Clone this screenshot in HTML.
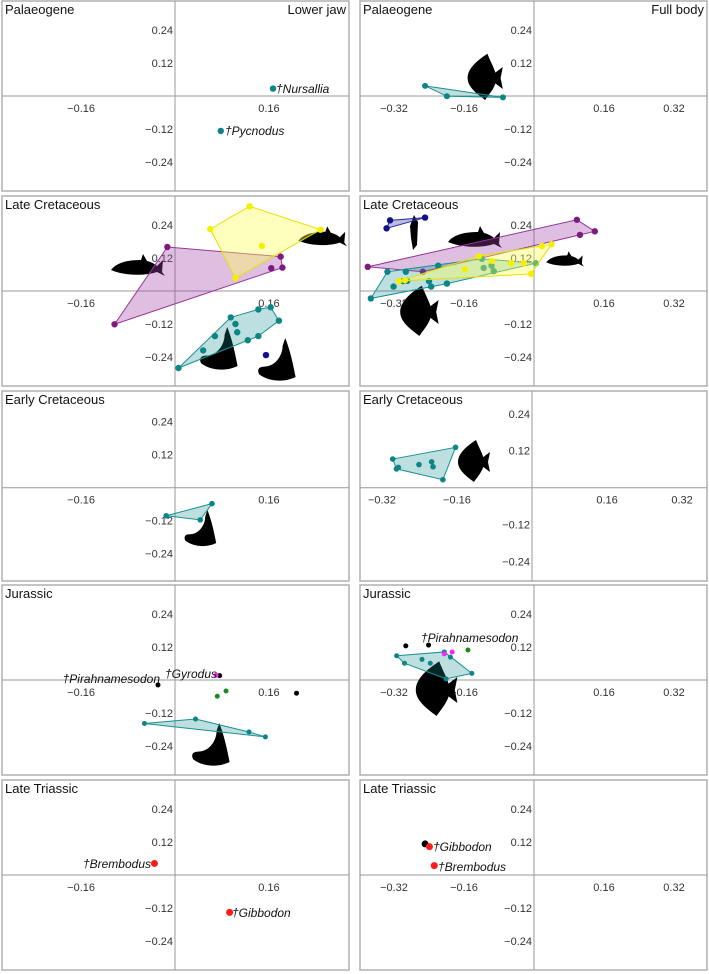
<!DOCTYPE html>
<html><head><meta charset="utf-8">
<style>
html,body{margin:0;padding:0;background:#fff;}
svg{display:block;font-family:"Liberation Sans",sans-serif;}
</style></head>
<body>
<svg id="fig" width="709" height="974" viewBox="0 0 709 974" xmlns="http://www.w3.org/2000/svg"></svg>
<script>
// ---- tick labels ----
const xTicksJaw = [-0.16, 0.16];
const xTicksBody = [-0.32, -0.16, 0.16, 0.32];
const yTicks = [0.24, 0.12, -0.12, -0.24];
const periodNames = ["Palaeogene","Late Cretaceous","Early Cretaceous","Jurassic","Late Triassic"];

// ---- data: Palaeogene ----
const palJawTealX = [0.167, 0.078];
const palJawTealY = [0.027, -0.127];
const palBodyTealX = [-0.249, -0.199, -0.071];
const palBodyTealY = [0.037, -0.001, -0.005];
// ---- Late Cretaceous jaw ----
const lcJawYellowX = [0.127, 0.060, 0.248, 0.148, 0.103];
const lcJawYellowY = [0.308, 0.225, 0.223, 0.164, 0.047];
const lcJawPurpleX = [-0.013, 0.180, 0.183, 0.164, -0.103];
const lcJawPurpleY = [0.160, 0.125, 0.085, 0.083, -0.121];
const lcJawTealX = [0.142, 0.163, 0.177, 0.095, 0.103, 0.106, 0.124, 0.142, 0.068, 0.048, 0.006];
const lcJawTealY = [-0.067, -0.059, -0.108, -0.096, -0.120, -0.150, -0.179, -0.164, -0.164, -0.216, -0.280];
const lcJawNavyX = [0.155];
const lcJawNavyY = [-0.233];
// ---- Late Cretaceous body ----
const lcBodyNavyX = [-0.329, -0.249, -0.337];
const lcBodyNavyY = [0.257, 0.267, 0.228];
const lcBodyPurpleX = [0.098, 0.139, 0.105, -0.380, -0.254];
const lcBodyPurpleY = [0.259, 0.217, 0.204, 0.088, 0.070];
const lcBodyYellowX = [0.018, 0.040, -0.052, -0.023, -0.007, -0.126, -0.096, -0.158, -0.309, -0.295];
const lcBodyYellowY = [0.164, 0.170, 0.101, 0.101, 0.062, 0.127, 0.109, 0.079, 0.036, 0.039];
const lcBodyTealX = [-0.335, -0.293, -0.219, -0.119, -0.115, -0.097, -0.092, 0.004, -0.373, -0.321, -0.299, -0.290, -0.240, -0.235, -0.199];
const lcBodyTealY = [0.070, 0.070, 0.092, 0.117, 0.084, 0.092, 0.072, 0.101, -0.027, 0.016, 0.036, 0.037, 0.036, 0.016, 0.027];
// ---- Early Cretaceous ----
const ecJawTealX = [-0.015, 0.063, 0.043];
const ecJawTealY = [-0.102, -0.058, -0.117];
const ecBodyTealX = [-0.163, -0.297, -0.289, -0.285, -0.241, -0.214, -0.211, -0.190];
const ecBodyTealY = [0.131, 0.093, 0.061, 0.066, 0.075, 0.084, 0.068, 0.026];
// ---- Jurassic ----
const juJawBlackX = [-0.029, 0.076, 0.207];
const juJawBlackY = [-0.018, 0.016, -0.048];
const juJawMagentaX = [0.070];
const juJawMagentaY = [0.017];
const juJawGreenX = [0.087, 0.072];
const juJawGreenY = [-0.040, -0.059];
const juJawTealX = [-0.052, 0.035, 0.126, 0.154];
const juJawTealY = [-0.158, -0.142, -0.189, -0.207];
const juBodyBlackX = [-0.293, -0.241];
const juBodyBlackY = [0.124, 0.127];
const juBodyMagentaX = [-0.205, -0.187];
const juBodyMagentaY = [0.095, 0.102];
const juBodyGreenX = [-0.151];
const juBodyGreenY = [0.109];
const juBodyTealX = [-0.314, -0.296, -0.256, -0.237, -0.205, -0.191, -0.142, -0.201];
const juBodyTealY = [0.088, 0.061, 0.075, 0.061, 0.102, 0.083, 0.024, 0.004];
// ---- Late Triassic ----
const ltJawRedX = [-0.035, 0.093];
const ltJawRedY = [0.042, -0.136];
const ltBodyBlackX = [-0.249];
const ltBodyBlackY = [0.113];
const ltBodyRedX = [-0.239, -0.228];
const ltBodyRedY = [0.103, 0.034];

const NS = "http://www.w3.org/2000/svg";
const svg = document.getElementById("fig");
function mk(tag, attrs, parent){
  const e = document.createElementNS(NS, tag);
  for (const k in attrs) e.setAttribute(k, attrs[k]);
  (parent||svg).appendChild(e);
  return e;
}
const tops = [1, 196, 391, 585, 780];
function makePanel(row, col){
  const top = tops[row];
  const x0 = col === 0 ? 2 : 360;
  const p = {x0:x0, y0:top, w:347, h:190, ay: top + 95, sy: 275};
  if (col === 0){ p.ax = 175; p.sx = 587; p.ticks = xTicksJaw; }
  else { p.ax = 534; p.sx = 437.5; p.ticks = xTicksBody; }
  if (row === 2){ p.ay = 487.7; if (col === 1){ p.ax = 532; p.sx = 469; p.sy = 308; } }
  p.X = v => p.ax + v * p.sx;
  p.Y = v => p.ay - v * p.sy;
  return p;
}
const P = [];
for (let r=0;r<5;r++){ P.push([makePanel(r,0), makePanel(r,1)]); }

function drawFrame(p, title, row, col){
  const g = mk("g", {});
  
  
  const r = mk("rect", {x:p.x0, y:p.y0, width:p.w, height:p.h, fill:"#fff", stroke:"#b0b0b0", "stroke-width":1.5}, g);
  
  
  const xa = mk("line", {x1:p.x0, x2:p.x0+p.w, y1:p.ay, y2:p.ay, stroke:"#999", "stroke-width":1}, g);
  
  
  const ya = mk("line", {x1:p.ax, x2:p.ax, y1:p.y0, y2:p.y0+p.h, stroke:"#999", "stroke-width":1}, g);
  
  
  p.ticks.forEach(t => {
    const tx = mk("text", {x:p.X(t), y:p.ay+16, "font-size":11, fill:"#333", "text-anchor":"middle"}, g);
    tx.textContent = (t<0?"\u2212":"") + Math.abs(t).toFixed(2);
    
    
  });
  yTicks.forEach(t => {
    const ty = mk("text", {x:p.ax-2, y:p.Y(t)+4, "font-size":11, fill:"#333", "text-anchor":"end"}, g);
    ty.textContent = (t<0?"\u2212":"") + Math.abs(t).toFixed(2);
    
    
  });
  const tt = mk("text", {x:p.x0+3, y:p.y0+13, "font-size":13, fill:"#111"}, g);
  tt.textContent = title;
  
  
}
for (let r=0;r<5;r++){ drawFrame(P[r][0], periodNames[r], r, 0); drawFrame(P[r][1], periodNames[r], r, 1); }
const lj = mk("text", {x:346, y:14, "font-size":13, fill:"#111", "text-anchor":"end"});
lj.textContent = "Lower jaw";


const fb = mk("text", {x:704, y:14, "font-size":13, fill:"#111", "text-anchor":"end"});
fb.textContent = "Full body";



// ---- silhouettes (decorative) ----
function fish(cx, cy, s, name, deep){
  const g = mk("g", {transform:`translate(${cx},${cy}) scale(${s})`});
  
  
  if (deep){
    mk("path", {d:"M-14,0 C-14,-10 -2,-18 4,-22 C8,-12 12,-6 12,0 C12,8 6,14 2,20 C-6,14 -14,8 -14,0 Z M10,-4 L18,-10 L16,0 L18,10 L10,4 Z", fill:"#000"}, g);
  } else {
    mk("path", {d:"M-24,2 C-18,-6 -6,-8 6,-8 L8,-14 L12,-7 C16,-6 20,-4 22,-2 L28,-8 L27,4 L30,8 L22,4 C10,8 -10,8 -24,2 Z", fill:"#000"}, g);
  }
}
function jaw(cx, cy, s, name){
  const g = mk("g", {transform:`translate(${cx},${cy}) scale(${s})`});
  
  
  mk("path", {d:"M4,-20 C8,-10 10,0 12,10 C4,14 -8,14 -16,8 C-18,4 -16,2 -12,2 C-4,2 2,-6 2,-14 Z", fill:"#000"}, g);
}
fish(483,78,1.1,"fish-silhouette",true);
fish(135,268,1.0,"fish-silhouette",false);
fish(320,239,0.9,"fish-silhouette",false);
jaw(222,353,1.3,"jaw-silhouette");
jaw(280,364,1.3,"jaw-silhouette");
fish(472,240,1.0,"fish-silhouette",false);
fish(563,261,0.7,"fish-silhouette",false);
fish(417,312,1.2,"fish-silhouette",true);
const slim = mk("path", {d:"M414,215 L418,222 L417,245 L413,250 L411,238 L410,226 Z", fill:"#000"});


jaw(203,532,1.1,"jaw-silhouette");
fish(472,462,1.0,"fish-silhouette",true);
jaw(214,749,1.3,"jaw-silhouette");
fish(434,690,1.3,"fish-silhouette",true);

// ---- series ----
function hull(pts){
  pts = pts.slice().sort((a,b)=>a[0]-b[0]||a[1]-b[1]);
  const cr=(o,a,b)=>(a[0]-o[0])*(b[1]-o[1])-(a[1]-o[1])*(b[0]-o[0]);
  const lo=[],up=[];
  for(const p of pts){while(lo.length>=2&&cr(lo[lo.length-2],lo[lo.length-1],p)<=0)lo.pop();lo.push(p);}
  for(let i=pts.length-1;i>=0;i--){const p=pts[i];while(up.length>=2&&cr(up[up.length-2],up[up.length-1],p)<=0)up.pop();up.push(p);}
  up.pop();lo.pop();return lo.concat(up);
}
const COLORS = {
  teal:{dot:"#0b8585", fill:"rgba(20,140,140,0.28)", stroke:"#1a9090"},
  purple:{dot:"#801a80", fill:"rgba(160,70,170,0.35)", stroke:"#993399"},
  yellow:{dot:"#f5f000", fill:"rgba(255,255,90,0.4)", stroke:"#e6e000"},
  navy:{dot:"#10108a", fill:"rgba(60,60,170,0.35)", stroke:"#2a2a9a"},
  black:{dot:"#000"}, magenta:{dot:"#ff22ff"}, green:{dot:"#1a8a1a"}, red:{dot:"#ff1a1a"}
};
function series(p, xs, ys, color, doHull, r, name){
  const c = COLORS[color];
  if (doHull && xs.length >= 3){
    const pts = hull(xs.map((x,i)=>[p.X(x), p.Y(ys[i])]));
    const pg = mk("polygon", {points: pts.map(q=>q.join(",")).join(" "), fill:c.fill, stroke:c.stroke, "stroke-width":1});
    
    
  }
  xs.forEach((x,i)=>{
    const d = mk("circle", {cx:p.X(x), cy:p.Y(ys[i]), r:r||3, fill:c.dot});
    
    
  });
}
series(P[0][0], palJawTealX, palJawTealY, "teal", false, 3.2, "palaeogene-jaw-teal");
series(P[0][1], palBodyTealX, palBodyTealY, "teal", true, 3, "palaeogene-body-teal");
series(P[1][0], lcJawPurpleX, lcJawPurpleY, "purple", true, 3.2, "late-cretaceous-jaw-purple");
series(P[1][0], lcJawYellowX, lcJawYellowY, "yellow", true, 3.2, "late-cretaceous-jaw-yellow");
series(P[1][0], lcJawTealX, lcJawTealY, "teal", true, 3.2, "late-cretaceous-jaw-teal");
series(P[1][0], lcJawNavyX, lcJawNavyY, "navy", false, 3.2, "late-cretaceous-jaw-navy");
series(P[1][1], lcBodyNavyX, lcBodyNavyY, "navy", true, 3.2, "late-cretaceous-body-navy");
series(P[1][1], lcBodyPurpleX, lcBodyPurpleY, "purple", true, 3.2, "late-cretaceous-body-purple");
series(P[1][1], lcBodyTealX, lcBodyTealY, "teal", true, 3.2, "late-cretaceous-body-teal");
series(P[1][1], lcBodyYellowX, lcBodyYellowY, "yellow", true, 3.2, "late-cretaceous-body-yellow");
series(P[2][0], ecJawTealX, ecJawTealY, "teal", true, 2.8, "early-cretaceous-jaw-teal");
series(P[2][1], ecBodyTealX, ecBodyTealY, "teal", true, 2.8, "early-cretaceous-body-teal");
series(P[3][0], juJawTealX, juJawTealY, "teal", true, 2.5, "jurassic-jaw-teal");
series(P[3][0], juJawBlackX, juJawBlackY, "black", false, 2.5, "jurassic-jaw-black");
series(P[3][0], juJawMagentaX, juJawMagentaY, "magenta", false, 2.5, "jurassic-jaw-magenta");
series(P[3][0], juJawGreenX, juJawGreenY, "green", false, 2.5, "jurassic-jaw-green");
series(P[3][1], juBodyTealX, juBodyTealY, "teal", true, 2.5, "jurassic-body-teal");
series(P[3][1], juBodyBlackX, juBodyBlackY, "black", false, 2.5, "jurassic-body-black");
series(P[3][1], juBodyMagentaX, juBodyMagentaY, "magenta", false, 2.5, "jurassic-body-magenta");
series(P[3][1], juBodyGreenX, juBodyGreenY, "green", false, 2.5, "jurassic-body-green");
series(P[4][0], ltJawRedX, ltJawRedY, "red", false, 3.5, "late-triassic-jaw-red");
series(P[4][1], ltBodyBlackX, ltBodyBlackY, "black", false, 3.5, "late-triassic-body-black");
series(P[4][1], ltBodyRedX, ltBodyRedY, "red", false, 3.5, "late-triassic-body-red");

// ---- species labels ----
function label(txt, x, y, anchor, name){
  const t = mk("text", {x:x, y:y, "font-size":12, "font-style":"italic", fill:"#111", "text-anchor":anchor||"start"});
  t.textContent = txt;
  
  
}
label("\u2020Nursallia", 276, 93, "start", "nursallia-label");
label("\u2020Pycnodus", 225, 135, "start", "pycnodus-label");
label("\u2020Pirahnamesodon", 160, 683, "end", "pirahnamesodon-jaw-label");
label("\u2020Gyrodus", 165, 678, "start", "gyrodus-label");
label("\u2020Pirahnamesodon", 421, 642, "start", "pirahnamesodon-body-label");
label("\u2020Brembodus", 151, 868, "end", "brembodus-jaw-label");
label("\u2020Gibbodon", 232, 917, "start", "gibbodon-jaw-label");
label("\u2020Gibbodon", 433, 851, "start", "gibbodon-body-label");
label("\u2020Brembodus", 438, 871, "start", "brembodus-body-label");
</script>
</body></html>
